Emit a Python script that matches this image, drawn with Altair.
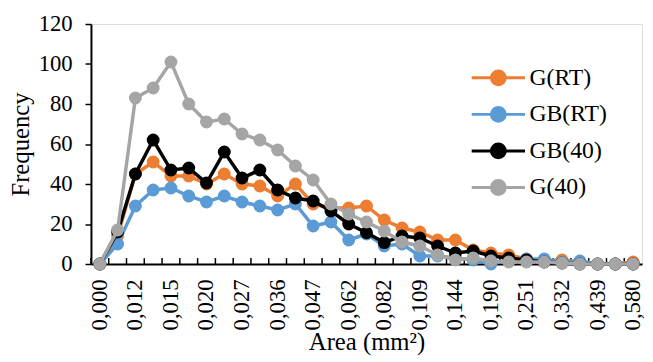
import altair as alt
import pandas as pd

FONT = "Liberation Serif"

categories = ["0,000", "0,010", "0,012", "0,013", "0,015", "0,017", "0,020", "0,023",
              "0,027", "0,031", "0,036", "0,041", "0,047", "0,054", "0,062", "0,071",
              "0,082", "0,095", "0,109", "0,125", "0,144", "0,165", "0,190", "0,218",
              "0,251", "0,289", "0,332", "0,382", "0,439", "0,505", "0,580"]
shown_labels = categories[::2]

g_rt = [0, 14, 45, 51, 44, 44, 40, 45, 40, 39, 34, 40, 30, 28, 28, 29,
        22, 18, 16, 12, 12, 7, 5.5, 4.5, 2.5, 1.5, 2, 1, 0, 0, 1]
gb_rt = [0, 10, 29, 37, 38, 34, 31, 34, 31, 29, 27, 30, 19, 21, 12, 15,
         9, 10, 4, 4, 3, 2, 0, 2, 2.5, 2.5, 1, 1.5, 0, 0, 0]
gb_40 = [0, 16, 45, 62, 47, 48, 40.5, 56, 43, 47, 37, 33, 31.5, 26.5, 20, 15.6,
         10.7, 14, 13, 9, 5.5, 6.5, 4, 3, 2, 1, 0.5, 0, 0, 0, 0]
g_40 = [0, 17, 83, 88, 101, 80, 71, 72.5, 65, 62, 57, 49, 42, 30, 25, 21,
        16.5, 11, 9, 4.5, 2, 3, 1.5, 1, 1, 1, 0.5, 0, 0, 0, 0]

series_names = ["G(RT)", "GB(RT)", "GB(40)", "G(40)"]
series_values = [g_rt, gb_rt, gb_40, g_40]
colors = ["#ED7D31", "#5B9BD5", "#000000", "#A5A5A5"]
y_ticks = [0, 20, 40, 60, 80, 100, 120]

rows = []
for name, vals in zip(series_names, series_values):
    for c, v in zip(categories, vals):
        rows.append({"Area": c, "Frequency": v, "Series": name})
df = pd.DataFrame(rows)

# legend symbol: line with a (stroked, concentric-ring) dot in the middle
ring_parts = []
for a in [0.26, 0.2, 0.14, 0.08, 0.03]:
    ring_parts.append(f"M{-a},0A{a},{a},0,1,1,{a},0A{a},{a},0,1,1,{-a},0")
legend_path = "M-1,0L-0.27,0M0.27,0L1,0" + "".join(ring_parts)

x_enc = alt.X(
    "Area:N", sort=categories, bandPosition=0.5,
    scale=alt.Scale(type="band", paddingInner=0, paddingOuter=0),
    axis=alt.Axis(values=shown_labels, labelAngle=270, labelFont=FONT,
                  labelFontSize=23, labelColor="#000000", tickSize=0,
                  labelPadding=15, domainColor="#000000", domainWidth=2,
                  title="Area (mm²)", titleFont=FONT, titleFontSize=25,
                  titleFontWeight="normal", titleColor="#000000", titlePadding=0),
)
y_enc = alt.Y(
    "Frequency:Q",
    scale=alt.Scale(domain=[0, 120], nice=False),
    axis=alt.Axis(values=y_ticks, grid=False, tickSize=6, tickWidth=1.5,
                  tickColor="#000000", labelFont=FONT, labelFontSize=23,
                  labelColor="#000000", labelPadding=13, domainColor="#000000",
                  domainWidth=2, title="Frequency", titleFont=FONT,
                  titleFontSize=25, titleFontWeight="normal",
                  titleColor="#000000", titlePadding=5),
)
color_enc = alt.Color(
    "Series:N",
    scale=alt.Scale(domain=series_names, range=colors),
    legend=alt.Legend(
        orient="none", legendX=384, legendY=36, title=None,
        symbolType=legend_path, symbolSize=2916, symbolStrokeWidth=3,
        clipHeight=37, rowPadding=0, labelFont=FONT, labelFontSize=24,
        labelColor="#000000", labelOffset=3, symbolOpacity=1,
    ),
)

base = alt.Chart(df)

# inward x ticks at category boundaries
ticks = base.transform_filter(alt.datum.Series == series_names[0]).mark_rule(
    color="#000000", strokeWidth=1.5
).encode(
    x=alt.X("Area:N", sort=categories, bandPosition=0),
    y=alt.value(243), y2=alt.value(237),
)

layers = [ticks]
for s in series_names:
    layers.append(
        base.transform_filter(alt.datum.Series == s)
        .mark_line(strokeWidth=3.5,
                   point=alt.OverlayMarkDef(filled=True, size=170, opacity=1))
        .encode(x=x_enc, y=y_enc, color=color_enc)
    )

chart = alt.layer(*layers).properties(
    width=558, height=243,
    autosize=alt.AutoSizeParams(type="none"),
    padding={"left": 84, "top": 14, "right": 3, "bottom": 96},
).configure_view(stroke=None).configure(background="white")

chart.save("out.html", embed_options={"renderer": "svg", "actions": False})
